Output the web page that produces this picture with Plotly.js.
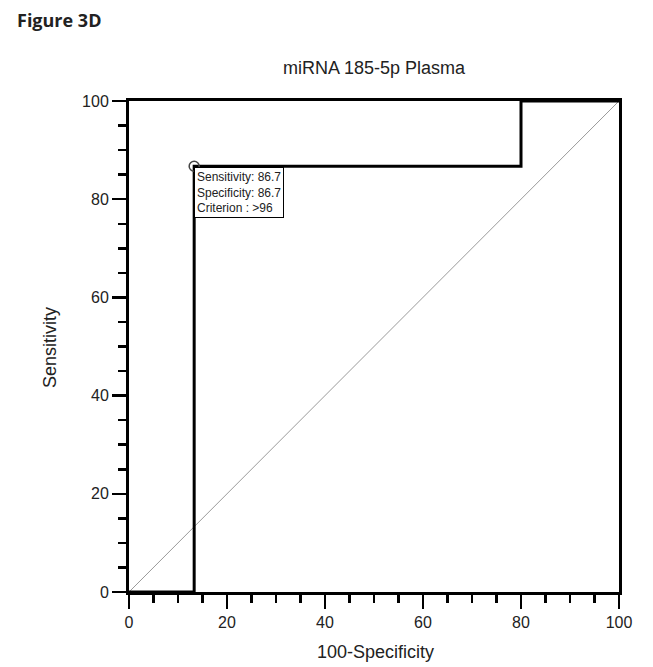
<!DOCTYPE html>
<html>
<head>
<meta charset="utf-8">
<script src="https://cdn.plot.ly/plotly-3.0.1.min.js"></script>
<style>
html,body{margin:0;padding:0;background:#fff;}
#chart{width:653px;height:667px;}
</style>
</head>
<body>
<div id="chart"></div>
<script>
// ROC curve data
const fpr = [0, 13.3, 13.3, 80, 80, 100];      // 100-Specificity
const tpr = [0, 0, 86.7, 86.7, 100, 100];      // Sensitivity
const diagX = [0, 100];
const diagY = [0, 100];
const cutX = [13.3];
const cutY = [86.7];
const tickVals = [0, 20, 40, 60, 80, 100];
const cutText = 'Sensitivity: 86.7<br>Specificity: 86.7<br>Criterion : >96';

const traces = [
  {x: diagX, y: diagY, mode: 'lines', line: {color: '#9a9a9a', width: 1}, cliponaxis: false, hoverinfo: 'skip'},
  {x: fpr, y: tpr, mode: 'lines', line: {color: '#000', width: 3}, cliponaxis: false},
  {x: cutX, y: cutY, mode: 'markers', marker: {symbol: 'circle-open', size: 10, color: '#444', line: {width: 1.5, color: '#444'}}, cliponaxis: false}
];

const FONT = 'Liberation Sans, Arial, sans-serif';
const tickFont = {family: FONT, size: 16, color: '#222'};
const titleFont = {family: FONT, size: 18, color: '#222'};

const W = 653, H = 667, L = 129, R = 34, T = 101, B = 75;
const pw = W - L - R, ph = H - T - B;
const px = v => (v - L) / pw;          // pixel x -> paper
const py = v => 1 - (v - T) / ph;      // pixel y -> paper

const layout = {
  width: W, height: H,
  margin: {l: L, r: R, t: T, b: B},
  paper_bgcolor: '#fff', plot_bgcolor: '#fff',
  showlegend: false,
  xaxis: {
    range: [0, 100], tickvals: tickVals, showgrid: false, zeroline: false,
    showline: true, linecolor: '#000', linewidth: 3, mirror: true,
    ticks: 'outside', ticklen: 14, tickwidth: 2.5, tickcolor: '#000',
    minor: {dtick: 5, tick0: 0, ticks: 'outside', ticklen: 8, tickwidth: 2.5, tickcolor: '#000', showgrid: false},
    tickfont: tickFont
  },
  yaxis: {
    range: [0, 100], tickvals: tickVals, showgrid: false, zeroline: false,
    showline: true, linecolor: '#000', linewidth: 3, mirror: true,
    ticks: 'outside', ticklen: 14, tickwidth: 2.5, tickcolor: '#000',
    minor: {dtick: 5, tick0: 0, ticks: 'outside', ticklen: 8, tickwidth: 2.5, tickcolor: '#000', showgrid: false},
    tickfont: tickFont
  },
  annotations: [
    {x: cutX[0], y: cutY[0], xref: 'x', yref: 'y', text: cutText, showarrow: false,
     xanchor: 'left', yanchor: 'top', align: 'left', xshift: 0, yshift: -1,
     font: {family: FONT, size: 12, color: '#222'},
     bgcolor: '#fff', bordercolor: '#000', borderwidth: 1, borderpad: 2},
    {x: px(15), y: py(20), xref: 'paper', yref: 'paper', xanchor: 'left', yanchor: 'middle',
     text: '<b>Figure 3D</b>', showarrow: false,
     font: {family: 'Open Sans, Lato, sans-serif', size: 18, color: '#222'}},
    {x: px(374), y: py(68), xref: 'paper', yref: 'paper', xanchor: 'center', yanchor: 'middle',
     text: 'miRNA 185-5p Plasma', showarrow: false, font: titleFont},
    {x: px(375), y: py(652), xref: 'paper', yref: 'paper', xanchor: 'center', yanchor: 'middle',
     text: '100-Specificity', showarrow: false, font: titleFont},
    {x: px(50), y: py(348), xref: 'paper', yref: 'paper', xanchor: 'center', yanchor: 'middle',
     text: 'Sensitivity', textangle: -90, showarrow: false, font: titleFont}
  ]
};

Plotly.newPlot('chart', traces, layout, {staticPlot: true});
</script>
</body>
</html>
